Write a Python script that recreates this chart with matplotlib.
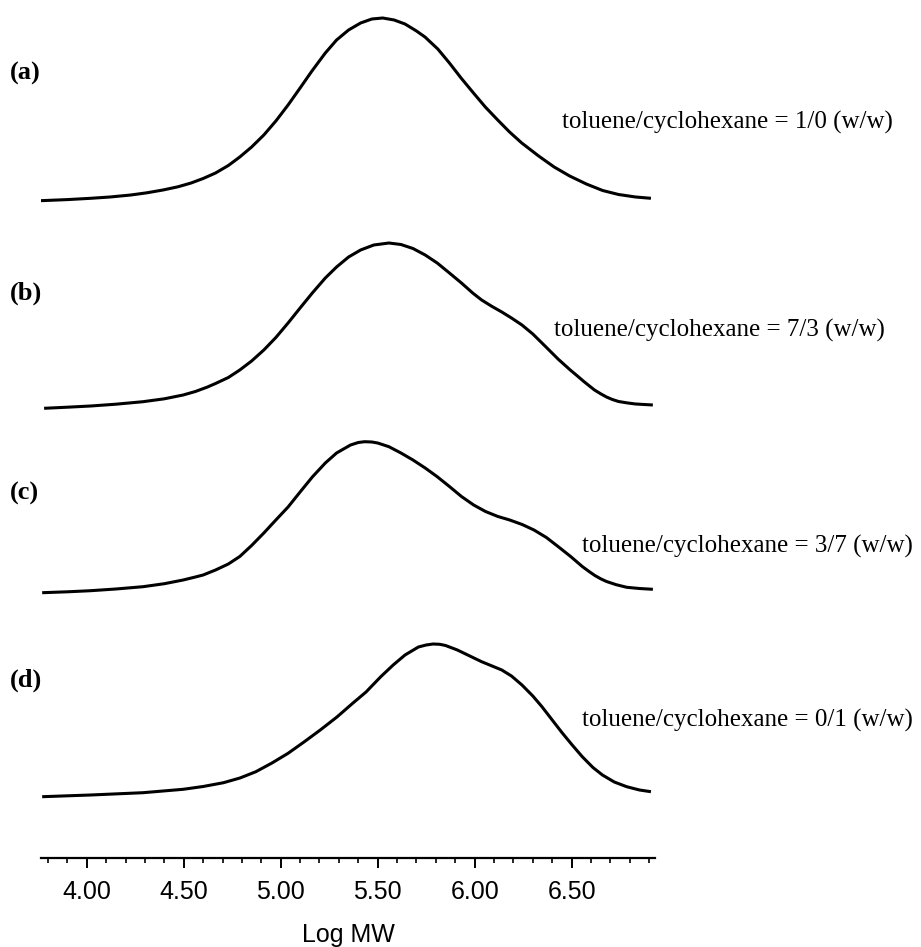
import numpy as np
import matplotlib
matplotlib.use('Agg')
import matplotlib.pyplot as plt

# GPC traces (Log MW vs relative detector signal)
x_a = [3.760, 3.900, 4.020, 4.120, 4.227, 4.310, 4.393, 4.470, 4.538, 4.600,
       4.664, 4.730, 4.789, 4.850, 4.913, 4.975, 5.038, 5.100, 5.161, 5.230,
       5.288, 5.350, 5.412, 5.470, 5.526, 5.585, 5.641, 5.700, 5.744, 5.810,
       5.870, 5.930, 5.994, 6.055, 6.119, 6.180, 6.243, 6.330, 6.410, 6.490,
       6.576, 6.660, 6.742, 6.830, 6.909]
y_a = [0.3, 1.4, 2.7, 4, 6, 8.2, 11, 14.2, 18, 22.5,
       28, 35.5, 44, 54, 66, 80, 96, 113, 130, 148,
       161, 171, 178, 182, 183, 181, 177, 170, 164, 152,
       138, 123, 108, 94, 81, 69, 58, 45, 34, 25,
       17, 10.5, 6.5, 4, 2.7]

x_b = [3.780, 3.900, 4.020, 4.150, 4.290, 4.400, 4.497, 4.560, 4.620, 4.664,
       4.730, 4.789, 4.850, 4.913, 4.975, 5.038, 5.100, 5.163, 5.230, 5.288,
       5.350, 5.412, 5.480, 5.558, 5.620, 5.682, 5.745, 5.807, 5.870, 5.932,
       5.990, 6.036, 6.090, 6.140, 6.190, 6.244, 6.300, 6.368, 6.430, 6.493,
       6.530, 6.560, 6.590, 6.618, 6.650, 6.680, 6.710, 6.742, 6.790, 6.830,
       6.919]
y_b = [0.7, 1.8, 3, 4.8, 7.3, 10.2, 14, 17.5, 21.8, 25.5,
       31.5, 39, 48, 59, 71.5, 86, 101, 116, 131, 142,
       152, 159, 164, 166, 164.5, 160.5, 154, 146, 136, 126,
       116, 109, 102.5, 97, 91, 84, 75, 62, 50, 39,
       33, 28, 23.3, 19, 15.2, 12, 9.5, 7.5, 6, 5,
       4]

x_c = [3.770, 3.900, 4.020, 4.150, 4.290, 4.400, 4.497, 4.560, 4.600, 4.664,
       4.730, 4.789, 4.850, 4.913, 4.975, 5.038, 5.100, 5.163, 5.230, 5.288,
       5.360, 5.400, 5.433, 5.470, 5.500, 5.558, 5.620, 5.682, 5.745, 5.807,
       5.870, 5.932, 5.995, 6.056, 6.120, 6.181, 6.245, 6.306, 6.370, 6.430,
       6.495, 6.555, 6.590, 6.620, 6.650, 6.680, 6.730, 6.784, 6.850, 6.919]
y_c = [0.3, 1.2, 2.3, 4, 6.3, 9.3, 13, 16, 18, 23,
       29, 36.5, 47.5, 60, 73, 86, 101, 116, 130, 140,
       148, 150.5, 151.3, 151, 150, 146.3, 140, 133, 125, 116.3,
       106.5, 96.5, 88, 81.5, 76.5, 73, 68.5, 63, 55.5, 46.5,
       36.5, 26.5, 21.5, 17.5, 14.2, 11.5, 8.3, 5.7, 4.5, 3.7]

x_d = [3.770, 4.020, 4.290, 4.497, 4.600, 4.705, 4.790, 4.872, 4.955, 5.038,
       5.120, 5.204, 5.290, 5.371, 5.440, 5.516, 5.580, 5.641, 5.710, 5.750,
       5.786, 5.820, 5.850, 5.911, 5.975, 6.036, 6.090, 6.140, 6.190, 6.244,
       6.300, 6.347, 6.400, 6.452, 6.503, 6.555, 6.610, 6.659, 6.720, 6.784,
       6.850, 6.909]
y_d = [0.3, 2, 4.3, 7.7, 10.5, 14.3, 19, 25.3, 34, 43.7,
       55, 67, 80, 93.7, 105, 120.3, 132, 142, 150, 152,
       153, 152.7, 151.5, 147, 141, 135.3, 131, 127, 121, 112,
       101, 90.3, 77, 64, 52, 40.3, 29.5, 22, 15, 10.3,
       7, 5.3]

panel_tags = ['(a)', '(b)', '(c)', '(d)']
ratios = ['1/0', '7/3', '3/7', '0/1']
# vertical offset of each trace in the stack
offsets = [657, 449, 265, 61]

major_ticks = [4.00, 4.50, 5.00, 5.50, 6.00, 6.50]

W, H = 921, 947
fig = plt.figure(figsize=(W / 100, H / 100), dpi=100)
ax = fig.add_axes([41 / W, 89 / H, 614 / W, 858 / H])

traces = [(x_a, y_a), (x_b, y_b), (x_c, y_c), (x_d, y_d)]
for (xs, ys), off in zip(traces, offsets):
    ax.plot(xs, np.array(ys) + off, color='black', lw=2.2,
            solid_joinstyle='round', solid_capstyle='butt')

ax.set_xlim(3.764, 6.93)
ax.set_ylim(0, 858)
for s in ['left', 'right', 'top']:
    ax.spines[s].set_visible(False)
ax.spines['bottom'].set_linewidth(1.6)
ax.set_yticks([])
ax.set_xticks(major_ticks)
ax.set_xticks(np.arange(3.8, 6.95, 0.1), minor=True)
ax.set_xticklabels(['%.2f' % t for t in major_ticks])
ax.tick_params(axis='x', which='major', length=7.5, width=1.4, pad=8,
               labelsize=18, direction='out')
ax.tick_params(axis='x', which='minor', length=3.8, width=1.2,
               direction='out')
for lab in ax.get_xticklabels():
    lab.set_family('Liberation Sans')
ax.set_xlabel('Log MW', family='Liberation Sans', fontsize=18, labelpad=14)

# panel tags and solvent ratio notes
tag_y = [73, 293, 493, 680]
note_x = [562, 554, 582, 582]
note_y = [122, 330, 546, 720]
for i in range(4):
    fig.text(10 / W, 1 - tag_y[i] / H, panel_tags[i], family='Liberation Serif',
             fontweight='bold', fontsize=19, va='center', ha='left')
    fig.text(note_x[i] / W, 1 - note_y[i] / H,
             'toluene/cyclohexane = %s (w/w)' % ratios[i],
             family='Liberation Serif', fontsize=18, va='center', ha='left')

fig.savefig('out.png', dpi=100)
